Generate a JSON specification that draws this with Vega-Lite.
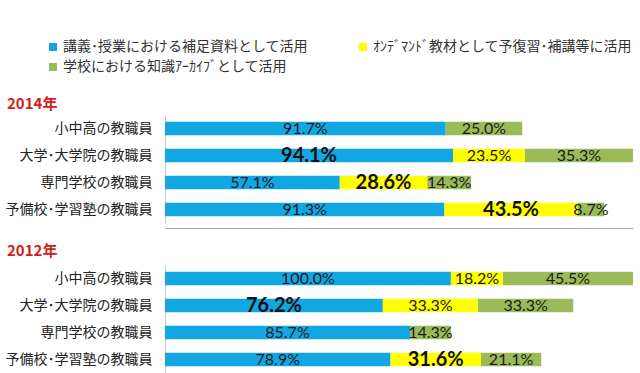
{
  "$schema": "https://vega.github.io/schema/vega-lite/v6.json",
  "background": "white",
  "padding": {"left": 5, "top": 40, "right": 5, "bottom": 0},
  "spacing": 16,
  "datasets": {
    "d": [
      {"year": 2014, "group": "小中高の教職員", "series": "講義･授業における補足資料として活用", "k": 1, "value": 0.917, "hl": false},
      {"year": 2014, "group": "小中高の教職員", "series": "学校における知識ｱｰｶｲﾌﾞとして活用", "k": 3, "value": 0.250, "hl": false},
      {"year": 2014, "group": "大学･大学院の教職員", "series": "講義･授業における補足資料として活用", "k": 1, "value": 0.941, "hl": true},
      {"year": 2014, "group": "大学･大学院の教職員", "series": "ｵﾝﾃﾞﾏﾝﾄﾞ教材として予復習･補講等に活用", "k": 2, "value": 0.235, "hl": false},
      {"year": 2014, "group": "大学･大学院の教職員", "series": "学校における知識ｱｰｶｲﾌﾞとして活用", "k": 3, "value": 0.353, "hl": false},
      {"year": 2014, "group": "専門学校の教職員", "series": "講義･授業における補足資料として活用", "k": 1, "value": 0.571, "hl": false},
      {"year": 2014, "group": "専門学校の教職員", "series": "ｵﾝﾃﾞﾏﾝﾄﾞ教材として予復習･補講等に活用", "k": 2, "value": 0.286, "hl": true},
      {"year": 2014, "group": "専門学校の教職員", "series": "学校における知識ｱｰｶｲﾌﾞとして活用", "k": 3, "value": 0.143, "hl": false},
      {"year": 2014, "group": "予備校･学習塾の教職員", "series": "講義･授業における補足資料として活用", "k": 1, "value": 0.913, "hl": false},
      {"year": 2014, "group": "予備校･学習塾の教職員", "series": "ｵﾝﾃﾞﾏﾝﾄﾞ教材として予復習･補講等に活用", "k": 2, "value": 0.435, "hl": true},
      {"year": 2014, "group": "予備校･学習塾の教職員", "series": "学校における知識ｱｰｶｲﾌﾞとして活用", "k": 3, "value": 0.087, "hl": false},
      {"year": 2012, "group": "小中高の教職員", "series": "講義･授業における補足資料として活用", "k": 1, "value": 1.000, "hl": false},
      {"year": 2012, "group": "小中高の教職員", "series": "ｵﾝﾃﾞﾏﾝﾄﾞ教材として予復習･補講等に活用", "k": 2, "value": 0.182, "hl": false},
      {"year": 2012, "group": "小中高の教職員", "series": "学校における知識ｱｰｶｲﾌﾞとして活用", "k": 3, "value": 0.455, "hl": false},
      {"year": 2012, "group": "大学･大学院の教職員", "series": "講義･授業における補足資料として活用", "k": 1, "value": 0.762, "hl": true},
      {"year": 2012, "group": "大学･大学院の教職員", "series": "ｵﾝﾃﾞﾏﾝﾄﾞ教材として予復習･補講等に活用", "k": 2, "value": 0.333, "hl": false},
      {"year": 2012, "group": "大学･大学院の教職員", "series": "学校における知識ｱｰｶｲﾌﾞとして活用", "k": 3, "value": 0.333, "hl": false},
      {"year": 2012, "group": "専門学校の教職員", "series": "講義･授業における補足資料として活用", "k": 1, "value": 0.857, "hl": false},
      {"year": 2012, "group": "専門学校の教職員", "series": "学校における知識ｱｰｶｲﾌﾞとして活用", "k": 3, "value": 0.143, "hl": false},
      {"year": 2012, "group": "予備校･学習塾の教職員", "series": "講義･授業における補足資料として活用", "k": 1, "value": 0.789, "hl": false},
      {"year": 2012, "group": "予備校･学習塾の教職員", "series": "ｵﾝﾃﾞﾏﾝﾄﾞ教材として予復習･補講等に活用", "k": 2, "value": 0.316, "hl": true},
      {"year": 2012, "group": "予備校･学習塾の教職員", "series": "学校における知識ｱｰｶｲﾌﾞとして活用", "k": 3, "value": 0.211, "hl": false}
    ]
  },
  "data": {"name": "d"},
  "vconcat": [
    {
      "title": {"text": "2014年", "anchor": "start", "color": "#D0201A", "fontSize": 15, "font": "Noto Sans CJK JP", "fontWeight": "bold", "offset": 3, "dx": 2},
      "width": 468,
      "height": 108,
      "transform": [{"filter": "datum.year == 2014"}],
      "encoding": {
        "y": {
          "field": "group", "type": "nominal", "title": null,
          "sort": ["小中高の教職員", "大学･大学院の教職員", "専門学校の教職員", "予備校･学習塾の教職員"],
          "scale": {"paddingInner": 0.5, "paddingOuter": 0.25},
          "axis": {"ticks": false, "labelPadding": 13, "domainColor": "#C8C8C8", "labelFont": "Noto Sans CJK JP", "labelFontSize": 14, "labelColor": "#222222"}
        }
      },
      "layer": [
        {
          "mark": {"type": "bar"},
          "encoding": {
            "x": {"field": "value", "type": "quantitative", "stack": "zero", "scale": {"nice": false},
                  "axis": {"labels": false, "ticks": false, "grid": false, "title": null, "domainColor": "#AAAAAA", "offset": 5}},
            "color": {
              "field": "series", "type": "nominal",
              "scale": {"domain": ["講義･授業における補足資料として活用", "学校における知識ｱｰｶｲﾌﾞとして活用", "ｵﾝﾃﾞﾏﾝﾄﾞ教材として予復習･補講等に活用"], "range": ["#12A6E2", "#9BBB59", "#FFFF00"]},
              "legend": {"orient": "none", "legendX": -119, "legendY": -75, "columns": 2, "columnPadding": 48, "rowPadding": 6, "title": null, "symbolType": "square", "symbolSize": 64, "symbolStrokeWidth": 0, "labelFont": "Noto Sans CJK JP", "labelFontSize": 14, "labelColor": "#333333", "labelOffset": 3, "labelLimit": 400, "padding": 0}
            },
            "order": {"field": "k"}
          }
        },
        {
          "mark": {"type": "text", "font": "Lato", "fontSize": 16, "color": "#1A1A1A"},
          "encoding": {
            "x": {"field": "value", "type": "quantitative", "stack": "zero", "bandPosition": 0.5},
            "detail": {"field": "series"},
            "order": {"field": "k"},
            "text": {"field": "value", "format": ".1%"},
            "opacity": {"condition": {"test": "datum.hl", "value": 0}, "value": 1}
          }
        },
        {
          "mark": {"type": "text", "font": "Lato", "fontSize": 20, "fontWeight": "bold", "color": "#111111"},
          "encoding": {
            "x": {"field": "value", "type": "quantitative", "stack": "zero", "bandPosition": 0.5},
            "detail": {"field": "series"},
            "order": {"field": "k"},
            "text": {"field": "value", "format": ".1%"},
            "opacity": {"condition": {"test": "datum.hl", "value": 1}, "value": 0}
          }
        }
      ]
    },
    {
      "title": {"text": "2012年", "anchor": "start", "color": "#D0201A", "fontSize": 15, "font": "Noto Sans CJK JP", "fontWeight": "bold", "offset": 6, "dx": 2},
      "width": 468,
      "height": 108,
      "transform": [{"filter": "datum.year == 2012"}],
      "encoding": {
        "y": {
          "field": "group", "type": "nominal", "title": null,
          "sort": ["小中高の教職員", "大学･大学院の教職員", "専門学校の教職員", "予備校･学習塾の教職員"],
          "scale": {"paddingInner": 0.5, "paddingOuter": 0.25},
          "axis": {"ticks": false, "labelPadding": 13, "domainColor": "#C8C8C8", "labelFont": "Noto Sans CJK JP", "labelFontSize": 14, "labelColor": "#222222"}
        }
      },
      "layer": [
        {
          "mark": {"type": "bar"},
          "encoding": {
            "x": {"field": "value", "type": "quantitative", "stack": "zero", "scale": {"nice": false}, "axis": null},
            "color": {
              "field": "series", "type": "nominal",
              "scale": {"domain": ["講義･授業における補足資料として活用", "学校における知識ｱｰｶｲﾌﾞとして活用", "ｵﾝﾃﾞﾏﾝﾄﾞ教材として予復習･補講等に活用"], "range": ["#12A6E2", "#9BBB59", "#FFFF00"]},
              "legend": {"orient": "none", "legendX": -119, "legendY": -75, "columns": 2, "columnPadding": 48, "rowPadding": 6, "title": null, "symbolType": "square", "symbolSize": 64, "symbolStrokeWidth": 0, "labelFont": "Noto Sans CJK JP", "labelFontSize": 14, "labelColor": "#333333", "labelOffset": 3, "labelLimit": 400, "padding": 0}
            },
            "order": {"field": "k"}
          }
        },
        {
          "mark": {"type": "text", "font": "Lato", "fontSize": 16, "color": "#1A1A1A"},
          "encoding": {
            "x": {"field": "value", "type": "quantitative", "stack": "zero", "bandPosition": 0.5},
            "detail": {"field": "series"},
            "order": {"field": "k"},
            "text": {"field": "value", "format": ".1%"},
            "opacity": {"condition": {"test": "datum.hl", "value": 0}, "value": 1}
          }
        },
        {
          "mark": {"type": "text", "font": "Lato", "fontSize": 20, "fontWeight": "bold", "color": "#111111"},
          "encoding": {
            "x": {"field": "value", "type": "quantitative", "stack": "zero", "bandPosition": 0.5},
            "detail": {"field": "series"},
            "order": {"field": "k"},
            "text": {"field": "value", "format": ".1%"},
            "opacity": {"condition": {"test": "datum.hl", "value": 1}, "value": 0}
          }
        }
      ]
    }
  ],
  "resolve": {"scale": {"x": "independent", "y": "independent", "color": "shared"}, "legend": {"color": "shared"}},
  "config": {"view": {"stroke": null}}
}
